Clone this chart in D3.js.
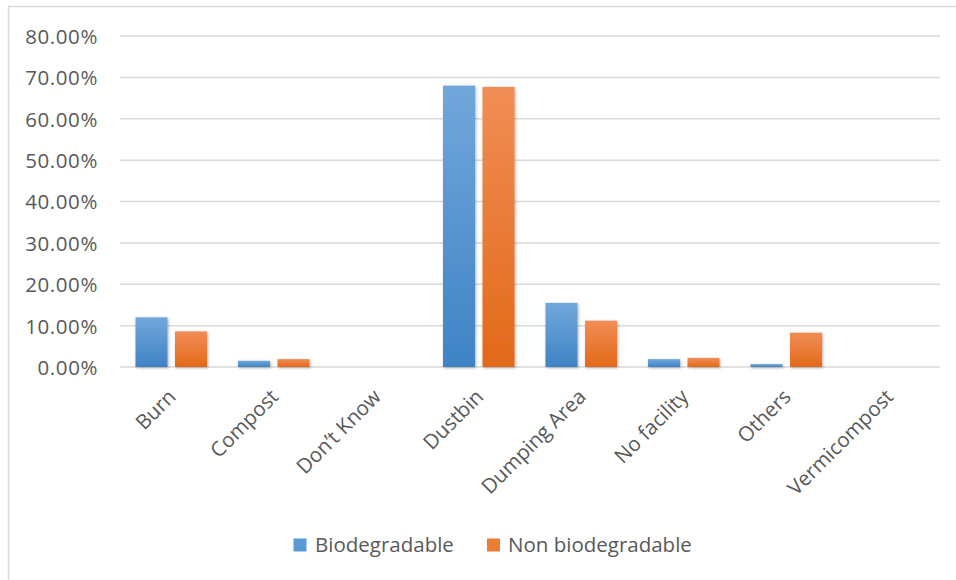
<!DOCTYPE html>
<html>
<head>
<meta charset="utf-8">
<script src="https://cdn.jsdelivr.net/npm/d3@7"></script>
<style>
  html, body { margin: 0; padding: 0; background: #fff; }
  svg { display: block; font-family: "Open Sans", "Noto Sans", sans-serif; }
</style>
</head>
<body>
<svg id="chart" width="956" height="580"></svg>
<script>
// Waste disposal method by waste type (share of respondents)
const categories = ["Burn", "Compost", "Don\u2019t Know", "Dustbin", "Dumping Area", "No facility", "Others", "Vermicompost"];
const seriesNames = ["Biodegradable", "Non biodegradable"];
const biodegradable = [0.120, 0.015, 0.000, 0.680, 0.155, 0.019, 0.007, 0.000];
const nonBiodegradable = [0.086, 0.019, 0.000, 0.677, 0.112, 0.022, 0.083, 0.000];
const yTicks = [0, 0.1, 0.2, 0.3, 0.4, 0.5, 0.6, 0.7, 0.8];

const svg = d3.select("#chart");
const W = 956, H = 580;
const plot = { left: 120, right: 940, top: 36, bottom: 367 };
const labelFont = 20.5;

// chart frame
svg.append("path")
  .attr("d", `M8.5,${H} L8.5,6.5 L${W},6.5`)
  .attr("fill", "none").attr("stroke", "#d9d9d9").attr("stroke-width", 1.5);

const defs = svg.append("defs");
const gradStops = [
  ["grad-blue", "#72a7db", "#3f83c5"],
  ["grad-orange", "#f18d55", "#e2691a"]
];
gradStops.forEach(([id, top, bottom]) => {
  const g = defs.append("linearGradient").attr("id", id)
    .attr("x1", 0).attr("y1", 0).attr("x2", 0).attr("y2", 1);
  g.append("stop").attr("offset", "0%").attr("stop-color", top);
  g.append("stop").attr("offset", "100%").attr("stop-color", bottom);
});
const shadow = defs.append("filter").attr("id", "bar-shadow")
  .attr("x", "-30%").attr("y", "-10%").attr("width", "160%").attr("height", "130%");
shadow.append("feDropShadow").attr("dx", 1).attr("dy", 1).attr("stdDeviation", 1.6)
  .attr("flood-color", "#000").attr("flood-opacity", 0.3);

const x = d3.scaleBand().domain(categories).range([plot.left, plot.right]).paddingInner(0).paddingOuter(0);
const y = d3.scaleLinear().domain([0, 0.8]).range([plot.bottom, plot.top]);
const fmt = d3.format(".2%");

// horizontal gridlines
svg.append("g").selectAll("line").data(yTicks).join("line")
  .attr("x1", plot.left).attr("x2", plot.right)
  .attr("y1", d => y(d)).attr("y2", d => y(d))
  .attr("stroke", "#d9d9d9").attr("stroke-width", 1.5);

// y axis labels
const yAxis = svg.append("g").attr("transform", `translate(${plot.left - 22},0)`)
  .call(d3.axisLeft(y).tickValues(yTicks).tickFormat(fmt).tickSize(0).tickPadding(0));
yAxis.select(".domain").remove();
yAxis.selectAll("text")
  .attr("font-family", "'Open Sans', 'Noto Sans', sans-serif")
  .attr("font-size", 20.5).attr("letter-spacing", "0.6px")
  .attr("fill", "#595959").attr("dy", "0.36em");

// grouped bars
const series = [
  { name: seriesNames[0], values: biodegradable, fill: "url(#grad-blue)", swatch: "#5b9bd5" },
  { name: seriesNames[1], values: nonBiodegradable, fill: "url(#grad-orange)", swatch: "#ed7d31" }
];
const barW = 32, innerGap = 7.5;
const inner = d3.scaleOrdinal().domain(seriesNames)
  .range([-(barW + innerGap / 2), innerGap / 2]);

series.forEach(s => {
  svg.append("g").attr("filter", "url(#bar-shadow)")
    .selectAll("rect").data(categories.map((c, i) => ({ c, v: s.values[i] })))
    .join("rect")
    .attr("x", d => x(d.c) + x.bandwidth() / 2 + inner(s.name))
    .attr("y", d => y(d.v))
    .attr("width", barW)
    .attr("height", d => Math.max(0, y(0) - y(d.v)))
    .attr("fill", s.fill);
});

// rotated category labels
const xAxis = svg.append("g").attr("transform", `translate(0,${plot.bottom})`)
  .call(d3.axisBottom(x).tickSize(0).tickPadding(0));
xAxis.select(".domain").remove();
xAxis.selectAll("text")
  .attr("font-family", "'Open Sans', 'Noto Sans', sans-serif")
  .attr("font-size", labelFont).attr("fill", "#595959")
  .attr("text-anchor", "end")
  .attr("dy", null).attr("y", null)
  .attr("transform", "translate(6,31) rotate(-45)");

// legend
const legend = svg.append("g");
const legendPos = [{ sx: 293.5, tx: 315 }, { sx: 487, tx: 508 }];
series.forEach((s, i) => {
  legend.append("rect").attr("x", legendPos[i].sx).attr("y", 538.5)
    .attr("width", 13).attr("height", 13).attr("fill", s.swatch);
  legend.append("text").attr("x", legendPos[i].tx).attr("y", 552)
    .attr("font-size", labelFont).attr("fill", "#595959").text(s.name);
});
</script>
</body>
</html>
